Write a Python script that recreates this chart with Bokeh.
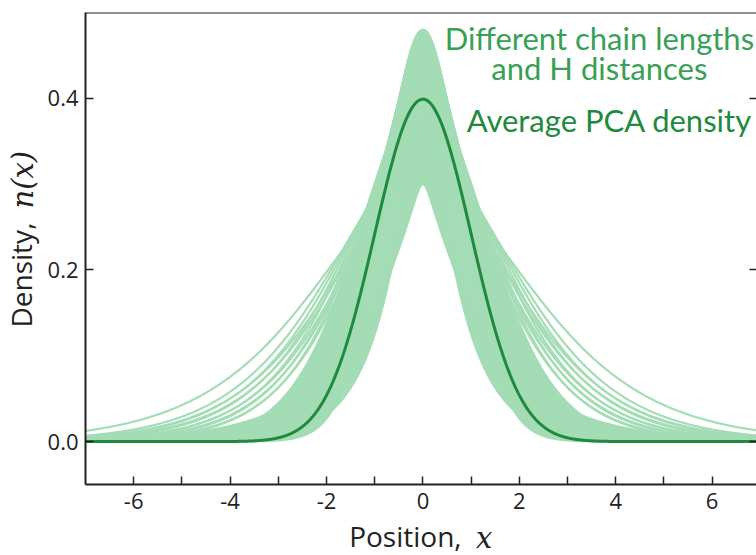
import numpy as np
from bokeh.plotting import figure
from bokeh.layouts import row, column
from bokeh.models import Label, LinearAxis, FixedTicker, Span, Range1d
from bokeh.embed import file_html
from bokeh.resources import INLINE

# axis limits
x_min, x_max = -7.0, 6.92
y_min, y_max = -0.05, 0.5

# sampling grid along the chain axis
positions = np.linspace(-7.0, 7.0, 1401)

# chains whose densities keep long, slowly decaying tails
tail_peak = [0.30, 0.33, 0.31, 0.34, 0.32, 0.35, 0.33, 0.36, 0.34, 0.37, 0.35, 0.38]
tail_decay = [1.45, 1.25, 1.22, 1.17, 1.14, 1.10, 1.07, 1.04, 1.01, 0.98, 0.95, 0.92]
tail_core = [3.0, 2.6, 2.5, 2.45, 2.4, 2.3, 2.2, 2.15, 2.1, 2.0, 1.95, 1.9]

# the bulk of the chains: rounded, intermediate and cusped profiles
bulk_peak = [0.48, 0.475, 0.47, 0.465, 0.46, 0.455, 0.45, 0.445, 0.44, 0.435,
             0.43, 0.425, 0.42, 0.415, 0.41, 0.405, 0.40,
             0.40, 0.39, 0.38, 0.37, 0.36, 0.35,
             0.45, 0.42, 0.39, 0.36, 0.34, 0.33, 0.32, 0.31, 0.30]
bulk_decay = [0.21, 0.23, 0.25, 0.27, 0.29, 0.31, 0.33, 0.35, 0.37, 0.39,
              0.41, 0.43, 0.45, 0.48, 0.51, 0.54, 0.57,
              0.70, 0.75, 0.80, 0.85, 0.88, 0.90,
              0.72, 0.80, 0.88, 0.98, 1.06, 1.12, 1.20, 1.30, 1.40]
bulk_core = [3.0, 3.0, 3.0, 3.0, 3.0, 3.0, 3.0, 3.0, 3.0, 3.0,
             3.0, 3.0, 3.0, 3.0, 3.0, 3.0, 3.0,
             1.6, 1.5, 1.4, 1.3, 1.2, 1.1,
             0.08, 0.10, 0.10, 0.12, 0.10, 0.12, 0.10, 0.12, 0.10]

# average PCA density (Gaussian profile)
avg_peak = 0.399
avg_width = 1.0

x_ticks = [-6, -5, -4, -3, -2, -1, 0, 1, 2, 3, 4, 5, 6]
x_tick_text = {-6: "-6", -4: "-4", -2: "-2", 0: "0", 2: "2", 4: "4", 6: "6"}
y_ticks = [0.0, 0.2, 0.4]
y_tick_text = ["0.0", "0.2", "0.4"]

LIGHT = "#a3dcb5"
MID = "#38a055"
DARK = "#1f8a3e"
INK = "#222222"
SANS = "Open Sans"
MATH = "DejaVu Serif"


def profile(peak, decay, core):
    r = np.sqrt(positions ** 2 + core ** 2) - core
    return peak * np.exp(-r / decay)


bulk = np.array([profile(a, b, c) for a, b, c in zip(bulk_peak, bulk_decay, bulk_core)])
tails = [profile(a, b, c) for a, b, c in zip(tail_peak, tail_decay, tail_core)]
average = avg_peak * np.exp(-0.5 * (positions / avg_width) ** 2)


def text_strip(width, height, x_range=None):
    """A bare figure used only to hold axis titles."""
    f = figure(width=width, height=height,
               x_range=x_range if x_range is not None else Range1d(0, width),
               y_range=Range1d(height, 0), output_backend="svg", toolbar_location=None,
               x_axis_type=None, y_axis_type=None,
               min_border_left=0, min_border_right=0, min_border_top=0, min_border_bottom=0)
    f.outline_line_color = None
    f.xgrid.visible = False
    f.ygrid.visible = False
    return f


p = figure(width=712, height=514, x_range=(x_min, x_max), y_range=(y_min, y_max),
           output_backend="svg", toolbar_location=None,
           min_border_left=40, min_border_right=0, min_border_top=12, min_border_bottom=30)
p.outline_line_color = None
p.background_fill_color = "white"
p.border_fill_color = "white"
p.xgrid.visible = False
p.ygrid.visible = False

# filled body of the densely packed profiles
p.varea(x=positions, y1=bulk.min(axis=0), y2=bulk.max(axis=0), fill_color=LIGHT)
for curve in bulk:
    p.line(positions, curve, line_color=LIGHT, line_width=2)
for curve in tails:
    p.line(positions, curve, line_color=LIGHT, line_width=2.2)
p.line(positions, average, line_color=DARK, line_width=3)

# axes
xa = p.xaxis[0]
xa.ticker = FixedTicker(ticks=x_ticks)
xa.major_label_overrides = {t: x_tick_text.get(t, "") for t in x_ticks}
ya = p.yaxis[0]
ya.ticker = FixedTicker(ticks=y_ticks)
ya.major_label_overrides = {t: s for t, s in zip(y_ticks, y_tick_text)}
for ax in (xa, ya):
    ax.axis_line_color = INK
    ax.axis_line_width = 2
    ax.major_tick_line_color = INK
    ax.major_tick_line_width = 1.5
    ax.major_tick_in = 8
    ax.major_tick_out = 0
    ax.minor_tick_line_color = None
    ax.major_label_text_font = SANS
    ax.major_label_text_font_size = "22px"
    ax.major_label_text_color = INK
xa.major_label_standoff = 8
ya.major_label_standoff = 7

ra = LinearAxis(ticker=FixedTicker(ticks=y_ticks),
                major_label_overrides={t: "" for t in y_ticks})
ra.axis_line_color = None
ra.major_tick_line_color = INK
ra.major_tick_line_width = 1.5
ra.major_tick_in = 7
ra.major_tick_out = 0
ra.minor_tick_line_color = None
ra.major_label_standoff = 0
ra.major_label_text_font_size = "1px"
p.add_layout(ra, "right")

p.add_layout(Span(location=y_max, dimension="width", line_color=INK, line_width=2))

# in-plot annotations
p.add_layout(Label(x=3.66, y=0.4485, text="Different chain lengths", text_align="center",
                   text_font="Lato", text_font_size="31px", text_color=MID))
p.add_layout(Label(x=3.66, y=0.4135, text="and H distances", text_align="center",
                   text_font="Lato", text_font_size="31px", text_color=MID))
p.add_layout(Label(x=6.83, y=0.353, text="Average PCA density", text_align="right",
                   text_font="Lato", text_font_size="31px", text_color=DARK))

# x-axis title strip, sharing the horizontal scale of the plot
px = text_strip(712, 41, x_range=p.x_range)
px.add_layout(Label(x=-1.53, y=40, text="Position,", text_align="left",
                    text_font=SANS, text_font_size="28px", text_color=INK))
px.add_layout(Label(x=1.10, y=40, text="x", text_align="left",
                    text_font=MATH, text_font_style="italic",
                    text_font_size="29px", text_color=INK))

# y-axis title strip
py = text_strip(44, 555)
py.add_layout(Label(x=39, y=327, text="Density,", angle=np.pi / 2, text_align="left",
                    text_font=SANS, text_font_size="28px", text_color=INK))
py.add_layout(Label(x=39, y=208, text="n(x)", angle=np.pi / 2, text_align="left",
                    text_font=MATH, text_font_style="italic",
                    text_font_size="29px", text_color=INK))

layout = row(py, column(p, px, spacing=0), spacing=0)

open("out.html", "w").write(file_html(layout, INLINE))
